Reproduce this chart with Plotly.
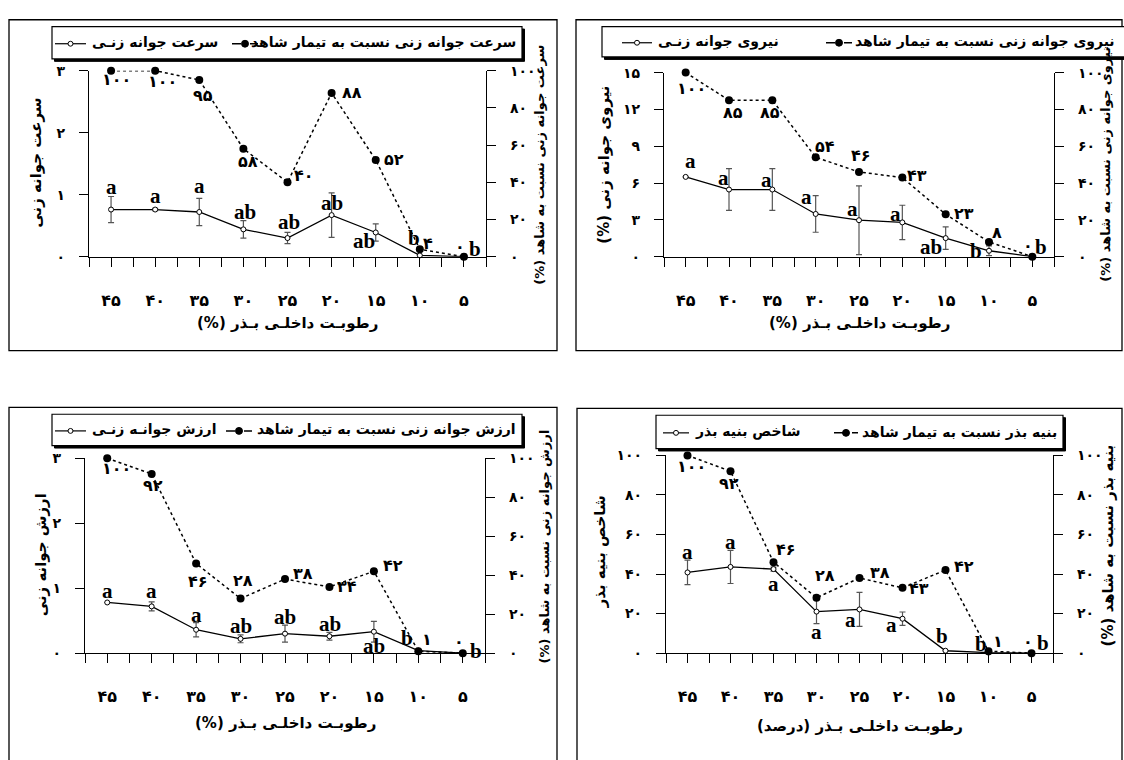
import plotly.graph_objects as go

W, H = 1124, 760

# ---------------- data ----------------
moisture = [45, 40, 35, 30, 25, 20, 15, 10, 5]
moisture_labels = ["۴۵", "۴۰", "۳۵", "۳۰", "۲۵", "۲۰", "۱۵", "۱۰", "۵"]

# germination rate
rate = [0.76, 0.76, 0.72, 0.44, 0.30, 0.67, 0.39, 0.02, 0.0]
rate_err = [0.21, 0.02, 0.22, 0.14, 0.09, 0.36, 0.14, 0.0, 0.0]
rate_letters = ["a", "a", "a", "ab", "ab", "ab", "ab", "b", "b"]
rate_pct = [100, 100, 95, 58, 40, 88, 52, 4, 0]
rate_pct_labels = ["۱۰۰", "۱۰۰", "۹۵", "۵۸", "۴۰", "۸۸", "۵۲", "۴", "۰"]
rate_yticks = [0, 1, 2, 3]

# germination power
power = [6.5, 5.47, 5.47, 3.48, 2.97, 2.79, 1.51, 0.48, 0.0]
power_err = [0.0, 1.7, 1.7, 1.49, 2.8, 1.4, 0.92, 0.4, 0.0]
power_letters = ["a", "a", "a", "a", "a", "a", "ab", "b", "b"]
power_pct = [100, 85, 85, 54, 46, 43, 23, 8, 0]
power_pct_labels = ["۱۰۰", "۸۵", "۸۵", "۵۴", "۴۶", "۴۳", "۲۳", "۸", "۰"]
power_yticks = [0, 3, 6, 9, 12, 15]

# germination value
gvalue = [0.78, 0.72, 0.36, 0.22, 0.30, 0.26, 0.33, 0.04, 0.0]
gvalue_err = [0.0, 0.07, 0.11, 0.06, 0.13, 0.06, 0.16, 0.0, 0.0]
gvalue_letters = ["a", "a", "a", "ab", "ab", "ab", "ab", "b", "b"]
gvalue_pct = [100, 92, 46, 28, 38, 34, 42, 1, 0]
gvalue_pct_labels = ["۱۰۰", "۹۲", "۴۶", "۲۸", "۳۸", "۳۴", "۴۲", "۱", "۰"]
gvalue_yticks = [0, 1, 2, 3]

# seedling vigour index
vigor = [40.8, 43.6, 42.5, 21.0, 22.1, 17.4, 1.2, 0.3, 0.0]
vigor_err = [6.2, 8.4, 1.0, 6.1, 8.6, 3.4, 0.0, 0.0, 0.0]
vigor_letters = ["a", "a", "a", "a", "a", "a", "b", "b", "b"]
vigor_pct = [100, 92, 46, 28, 38, 33, 42, 1, 0]
vigor_pct_labels = ["۱۰۰", "۹۲", "۴۶", "۲۸", "۳۸", "۴۳", "۴۲", "۱", "۰"]
vigor_yticks = [0, 20, 40, 60, 80, 100]

pct_ticks = [0, 20, 40, 60, 80, 100]

FA = str.maketrans("0123456789", "۰۱۲۳۴۵۶۷۸۹")


def fa(n):
    return str(n).translate(FA)


def px(x):
    return x / W


def py(y):
    return 1 - y / H


RLM = "\u200F"
XT = "رطوبـت داخلـی بـذر (%)"
XT4 = "رطوبـت داخلـی بـذر (درصد)"

PFONT = "DejaVu Sans"
SFONT = "Liberation Serif"

panels = [
    dict(
        main=rate, err=rate_err, letters=rate_letters, pct=rate_pct, pct_labels=rate_pct_labels,
        yticks=rate_yticks,
        box=(9, 12, 557, 350), plot=(89, 64, 486, 254),
        ltitle="سرعت جوانه زنی", rtitle="سرعت جوانه زنی نسبت به شاهد (%)", xtitle=XT,
        ltx=36, lty=158, rtx=540, rty=160, rts=13, xty=322,
        legbox=(52, 19, 522, 52),
        leg1="سرعت جوانه زنی نسبت به تیمار شاهد", leg1r=518, dsample=(232, 258),
        leg2="سرعت جوانه زنـی", ssample=(55, 86),
        let_off=[(0, 23), (0, 14), (0, 26), (2, 17), (1, 16), (0, 12), (-12, -9), (-6, 17), (11, 8)],
        pct_off=[(5, -9), (7, -11), (4, -16), (5, -13), (16, 7), (20, 0), (18, 0), (8, 6), (-4, 10)],
    ),
    dict(
        main=power, err=power_err, letters=power_letters, pct=power_pct, pct_labels=power_pct_labels,
        yticks=power_yticks,
        box=(576, 12, 1122, 350), plot=(664, 66, 1054, 254),
        ltitle="نیروی جوانه زنی (%)", rtitle="نیروی جوانه زنی نسبت به شاهد (%)", xtitle=XT,
        ltx=604, lty=160, rtx=1106, rty=160, rts=13, xty=322,
        legbox=(602, 19, 1140, 50),
        leg1="نیروی جوانه زنی نسبت به تیمار شاهد", leg1r=1117, dsample=(826, 852),
        leg2="نیروی جوانه زنـی", ssample=(622, 652),
        let_off=[(5, 16), (-6, 12), (-6, 10), (-9, 17), (-7, 11), (-7, 8), (-15, -9), (-13, 0), (9, 10)],
        pct_off=[(6, -16), (4, -12), (-2, -12), (9, 11), (2, 16), (15, 2), (18, 1), (8, 9), (-4, 11)],
    ),
    dict(
        main=gvalue, err=gvalue_err, letters=gvalue_letters, pct=gvalue_pct, pct_labels=gvalue_pct_labels,
        yticks=gvalue_yticks,
        box=(9, 408, 557, 790), plot=(85, 460, 485, 659),
        ltitle="ارزش جوانه زنی", rtitle="ارزش جوانه زنی نسبت به شاهد (%)", xtitle=XT,
        ltx=41, lty=559, rtx=544, rty=550, rts=13, xty=730,
        legbox=(52, 415, 522, 447),
        leg1="ارزش جوانه زنی نسبت به تیمار شاهد", leg1r=518, dsample=(226, 252),
        leg2="ارزش جوانـه زنـی", ssample=(55, 86),
        let_off=[(0, 11), (0, 15), (0, 15), (0, 13), (0, 17), (1, 12), (0, -14), (-11, 13), (13, 2)],
        pct_off=[(9, -10), (1, -12), (2, -18), (2, 18), (18, 6), (18, 0), (19, 6), (9, 12), (-4, 12)],
    ),
    dict(
        main=vigor, err=vigor_err, letters=vigor_letters, pct=vigor_pct, pct_labels=vigor_pct_labels,
        yticks=vigor_yticks,
        box=(577, 409, 1122, 790), plot=(666, 457, 1053, 659),
        ltitle="شاخص بنیه بذر", rtitle="بنیه بذر نسبت به شاهد (%)", xtitle=XT4,
        ltx=600, lty=555, rtx=1108, rty=549, rts=15, xty=733,
        legbox=(656, 416, 1063, 450),
        leg1="بنیه بذر نسبت به تیمار شاهد", leg1r=1059, dsample=(834, 858),
        leg2="شاخص بنیه بذر", ssample=(663, 689),
        let_off=[(0, 20), (0, 25), (0, -15), (0, -20), (-9, -11), (-11, -6), (-4, 15), (-8, 9), (11, 10)],
        pct_off=[(4, -11), (-2, -12), (12, 13), (8, 22), (20, 5), (16, -1), (18, 4), (9, 10), (-4, 12)],
    ),
]

fig = go.Figure()
layout = dict(
    width=W, height=H, autosize=False,
    margin=dict(l=0, r=0, t=0, b=0),
    paper_bgcolor="white", plot_bgcolor="rgba(0,0,0,0)",
    showlegend=False,
)
annotations = []
shapes = []

tickfont = dict(family=PFONT, size=14, color="black", weight="bold")


def pann(x, y, text, font, xanchor="center", yanchor="middle", angle=0):
    return dict(x=px(x), y=py(y), xref="paper", yref="paper", text=text, showarrow=False,
                xanchor=xanchor, yanchor=yanchor, textangle=angle, font=font)


for i, p in enumerate(panels):
    n = i + 1
    xa = "x" if n == 1 else f"x{n}"
    yl_i, yr_i, yt_i = 3 * i + 1, 3 * i + 2, 3 * i + 3
    yl = "y" if yl_i == 1 else f"y{yl_i}"
    yr = f"y{yr_i}"
    x0, ytop, x1, ybot = p["plot"]
    xdom = [px(x0), px(x1)]
    ydom = [py(ybot), py(ytop)]
    ymax = p["yticks"][-1]

    layout["xaxis" if n == 1 else f"xaxis{n}"] = dict(
        domain=xdom, anchor=yl, range=[47.5, 2.5],
        tickmode="array", tickvals=moisture, ticktext=moisture_labels,
        ticks="outside", ticklen=9, tickwidth=1, tickcolor="black",
        minor=dict(tick0=2.5, dtick=2.5, ticks="outside", ticklen=9, tickwidth=1, tickcolor="black", showgrid=False),
        showline=True, linecolor="black", linewidth=1.2,
        showgrid=False, zeroline=False, ticklabelstandoff=20,
        tickfont=dict(family=PFONT, size=16, color="black", weight="bold"),
    )
    layout["yaxis" if yl_i == 1 else f"yaxis{yl_i}"] = dict(
        domain=ydom, anchor=xa, range=[0, ymax], side="left",
        tickmode="array", tickvals=p["yticks"], ticktext=[fa(v) for v in p["yticks"]],
        ticks="outside", ticklen=9, tickwidth=1, tickcolor="black",
        showline=True, linecolor="black", linewidth=1.2,
        showgrid=False, zeroline=False, ticklabelstandoff=11,
        tickfont=tickfont,
    )
    layout[f"yaxis{yr_i}"] = dict(
        domain=ydom, anchor=xa, overlaying=yl, range=[0, 100], side="right",
        tickmode="array", tickvals=pct_ticks, ticktext=[fa(v) for v in pct_ticks],
        ticks="outside", ticklen=9, tickwidth=1, tickcolor="black",
        showline=True, linecolor="black", linewidth=1.2,
        showgrid=False, zeroline=False, ticklabelstandoff=11,
        tickfont=tickfont,
    )
    layout[f"yaxis{yt_i}"] = dict(
        domain=ydom, anchor=xa, overlaying=yl, range=[0, 100], side="right",
        tickmode="array", tickvals=pct_ticks,
        ticks="inside", ticklen=9, tickwidth=1, tickcolor="black",
        showticklabels=False, showline=False, showgrid=False, zeroline=False,
    )

    errs = [e if e > 0 else None for e in p["err"]]
    fig.add_trace(go.Scatter(
        x=moisture, y=p["main"], xaxis=xa, yaxis=yl, mode="lines+markers",
        line=dict(color="black", width=1.3),
        marker=dict(symbol="circle", size=5, color="white", line=dict(color="black", width=1)),
        error_y=dict(type="data", array=errs, visible=True, color="#555555", thickness=1.2, width=3),
        cliponaxis=False,
    ))
    fig.add_trace(go.Scatter(
        x=moisture, y=p["pct"], xaxis=xa, yaxis=yr, mode="lines+markers",
        line=dict(color="black", width=1.5, dash="dot"),
        marker=dict(symbol="circle", size=8, color="black"),
        cliponaxis=False,
    ))

    for j in range(len(moisture)):
        dx, dy = p["let_off"][j]
        annotations.append(dict(
            x=moisture[j], y=p["main"][j], xref=xa, yref=yl, text=p["letters"][j],
            showarrow=False, xshift=dx, yshift=dy, xanchor="center", yanchor="middle",
            font=dict(family=SFONT, size=21, color="black", weight="bold"),
        ))
        dx, dy = p["pct_off"][j]
        annotations.append(dict(
            x=moisture[j], y=p["pct"][j], xref=xa, yref=yr, text=p["pct_labels"][j],
            showarrow=False, xshift=dx, yshift=dy, xanchor="center", yanchor="middle",
            font=dict(family=PFONT, size=16, color="black", weight="bold"),
        ))

    # axis titles
    tfont = dict(family=PFONT, size=15, color="black", weight="bold")
    rfont = dict(family=PFONT, size=p["rts"], color="black", weight="bold")
    annotations.append(pann(p["ltx"], p["lty"], RLM + p["ltitle"] + RLM, tfont, angle=-90))
    annotations.append(pann(p["rtx"], p["rty"], RLM + p["rtitle"] + RLM, rfont, angle=-90))
    annotations.append(pann((x0 + x1) / 2, p["xty"], RLM + p["xtitle"] + RLM, tfont))

    # panel frame
    bx0, by0, bx1, by1 = p["box"]
    shapes.append(dict(type="rect", xref="paper", yref="paper", x0=px(bx0), x1=px(bx1),
                       y0=py(by1), y1=py(by0), line=dict(color="black", width=1.3), layer="below"))

    # legend box with shadow
    lx0, ly0, lx1, ly1 = p["legbox"]
    shapes.append(dict(type="rect", xref="paper", yref="paper", x0=px(lx0 + 2.5), x1=px(lx1 + 2.5),
                       y0=py(ly1 + 2.5), y1=py(ly0 + 2.5), line=dict(color="black", width=1),
                       fillcolor="black", layer="above"))
    shapes.append(dict(type="rect", xref="paper", yref="paper", x0=px(lx0), x1=px(lx1),
                       y0=py(ly1), y1=py(ly0), line=dict(color="black", width=1.2),
                       fillcolor="white", layer="above"))
    yc = (ly0 + ly1) / 2
    lfont = dict(family=PFONT, size=14, color="black", weight="bold")
    s0, s1 = p["ssample"]
    annotations.append(pann(p["leg1r"], yc, p["leg1"], lfont, xanchor="right"))
    annotations.append(pann(s1 + 4, yc, p["leg2"], lfont, xanchor="left"))
    # dashed sample
    d0, d1 = p["dsample"]
    shapes.append(dict(type="line", xref="paper", yref="paper", x0=px(d0), x1=px(d1), y0=py(yc + 1), y1=py(yc + 1),
                       line=dict(color="black", width=1.5, dash="dash"), layer="above"))
    dc = (d0 + d1) / 2
    shapes.append(dict(type="circle", xref="paper", yref="paper", x0=px(dc - 3.5), x1=px(dc + 3.5),
                       y0=py(yc + 4.5), y1=py(yc - 2.5), line=dict(color="black", width=1),
                       fillcolor="black", layer="above"))
    # solid sample
    shapes.append(dict(type="line", xref="paper", yref="paper", x0=px(s0), x1=px(s1), y0=py(yc + 1), y1=py(yc + 1),
                       line=dict(color="black", width=1.2), layer="above"))
    sc = (s0 + s1) / 2
    shapes.append(dict(type="circle", xref="paper", yref="paper", x0=px(sc - 2.5), x1=px(sc + 2.5),
                       y0=py(yc + 3.5), y1=py(yc - 1.5), line=dict(color="black", width=1),
                       fillcolor="white", layer="above"))

layout["annotations"] = annotations
layout["shapes"] = shapes
fig.update_layout(**layout)

post = ("document.documentElement.style.margin='0';document.body.style.margin='0';"
        "document.body.style.padding='0';document.body.style.overflow='hidden';"
        "document.documentElement.style.overflow='hidden';"
        "var g=document.getElementById('{plot_id}');g.style.position='absolute';"
        "g.style.left='0px';g.style.top='0px';")
fig.write_html("out.html", post_script=post, config={"displayModeBar": False})
